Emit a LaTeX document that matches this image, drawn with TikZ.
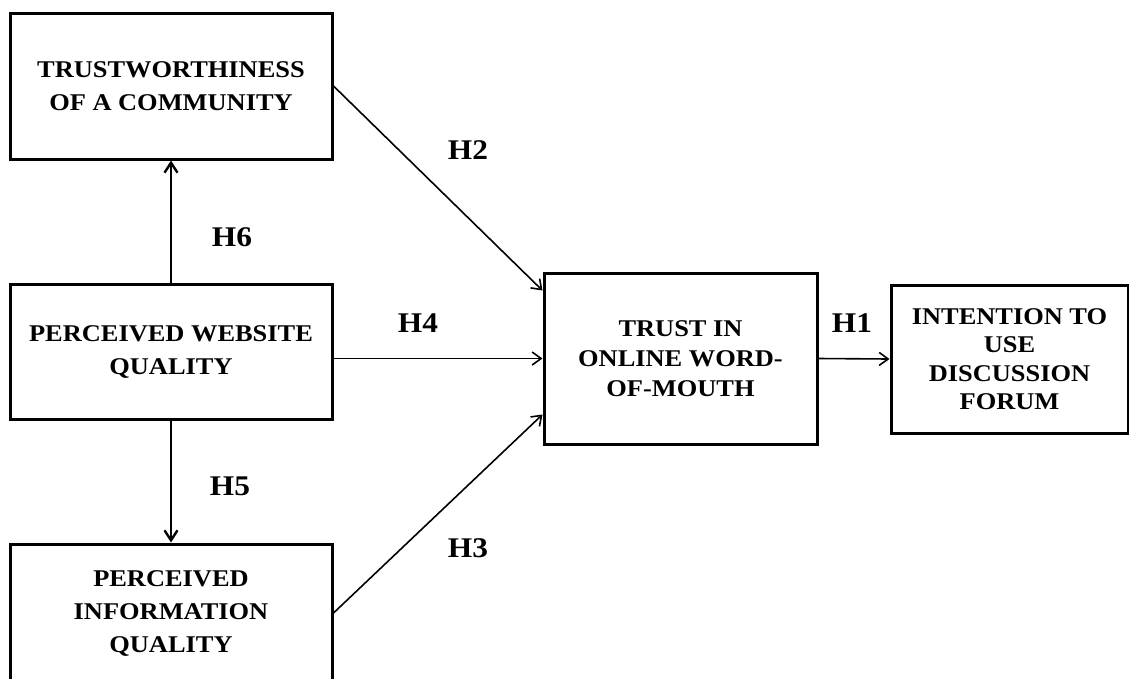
\documentclass[tikz,border=0pt]{standalone}
\usepackage{fontspec}
\setmainfont{Liberation Serif}[FakeStretch=1.1]
\usetikzlibrary{arrows.meta}
\begin{document}
\begin{tikzpicture}[x=1pt,y=-1pt,
  construct/.style={draw, line width=3pt, rectangle, inner sep=0pt, align=center,
    font=\bfseries\fontsize{24}{33}\selectfont},
  hyp/.style={font=\bfseries\fontsize{28.5}{30}\selectfont, inner sep=0pt},
  link/.style={-{Straight Barb[length=9pt,width=13pt,line width=1.6pt]}, line width=1.6pt},
  bold link/.style={-{Straight Barb[length=10pt,width=13pt,line width=2.4pt]}, line width=2.8pt}]
\useasboundingbox (0,0) rectangle (1129,678);
\clip (0,0) rectangle (1129,678);

% constructs
\node[construct, minimum width=322pt, minimum height=146pt] (trust) at (171,86)
  {TRUSTWORTHINESS\\OF A COMMUNITY};
\node[construct, minimum width=322pt, minimum height=135pt] (web) at (171,351.5)
  {PERCEIVED WEBSITE\\QUALITY};
\node[construct, minimum width=322pt, minimum height=138pt] (info) at (171,613)
  {PERCEIVED\\INFORMATION\\QUALITY};
\node[construct, minimum width=273pt, minimum height=171pt,
  font=\bfseries\fontsize{24}{30}\selectfont] (wom) at (680.5,358.5)
  {TRUST IN\\ONLINE WORD-\\OF-MOUTH};
\node[construct, minimum width=237pt, minimum height=148pt,
  font=\bfseries\fontsize{24}{28.5}\selectfont] (use) at (1009.5,359)
  {INTENTION TO\\USE\\DISCUSSION\\FORUM};

% hypothesised paths
\draw[bold link] (web.north) -- (trust.south);
\draw[bold link] (web.south) -- (info.north);
\draw[link] (trust.east) -- ([yshift=-19pt]wom.north west);
\draw[link] (web.east |- wom.west) -- (wom.west);
\draw[link] (info.east) -- ([yshift=31pt]wom.south west);
\draw[link] (wom.east) -- (use.west);

% path labels
\node[hyp] (h2) at (468,150) {H2};
\node[hyp] (h6) at (232,237) {H6};
\node[hyp] (h4) at (418,323) {H4};
\node[hyp] (h5) at (230,486) {H5};
\node[hyp] (h3) at (468,548) {H3};
\node[hyp] (h1) at (852,323) {H1};
\end{tikzpicture}
\end{document}
